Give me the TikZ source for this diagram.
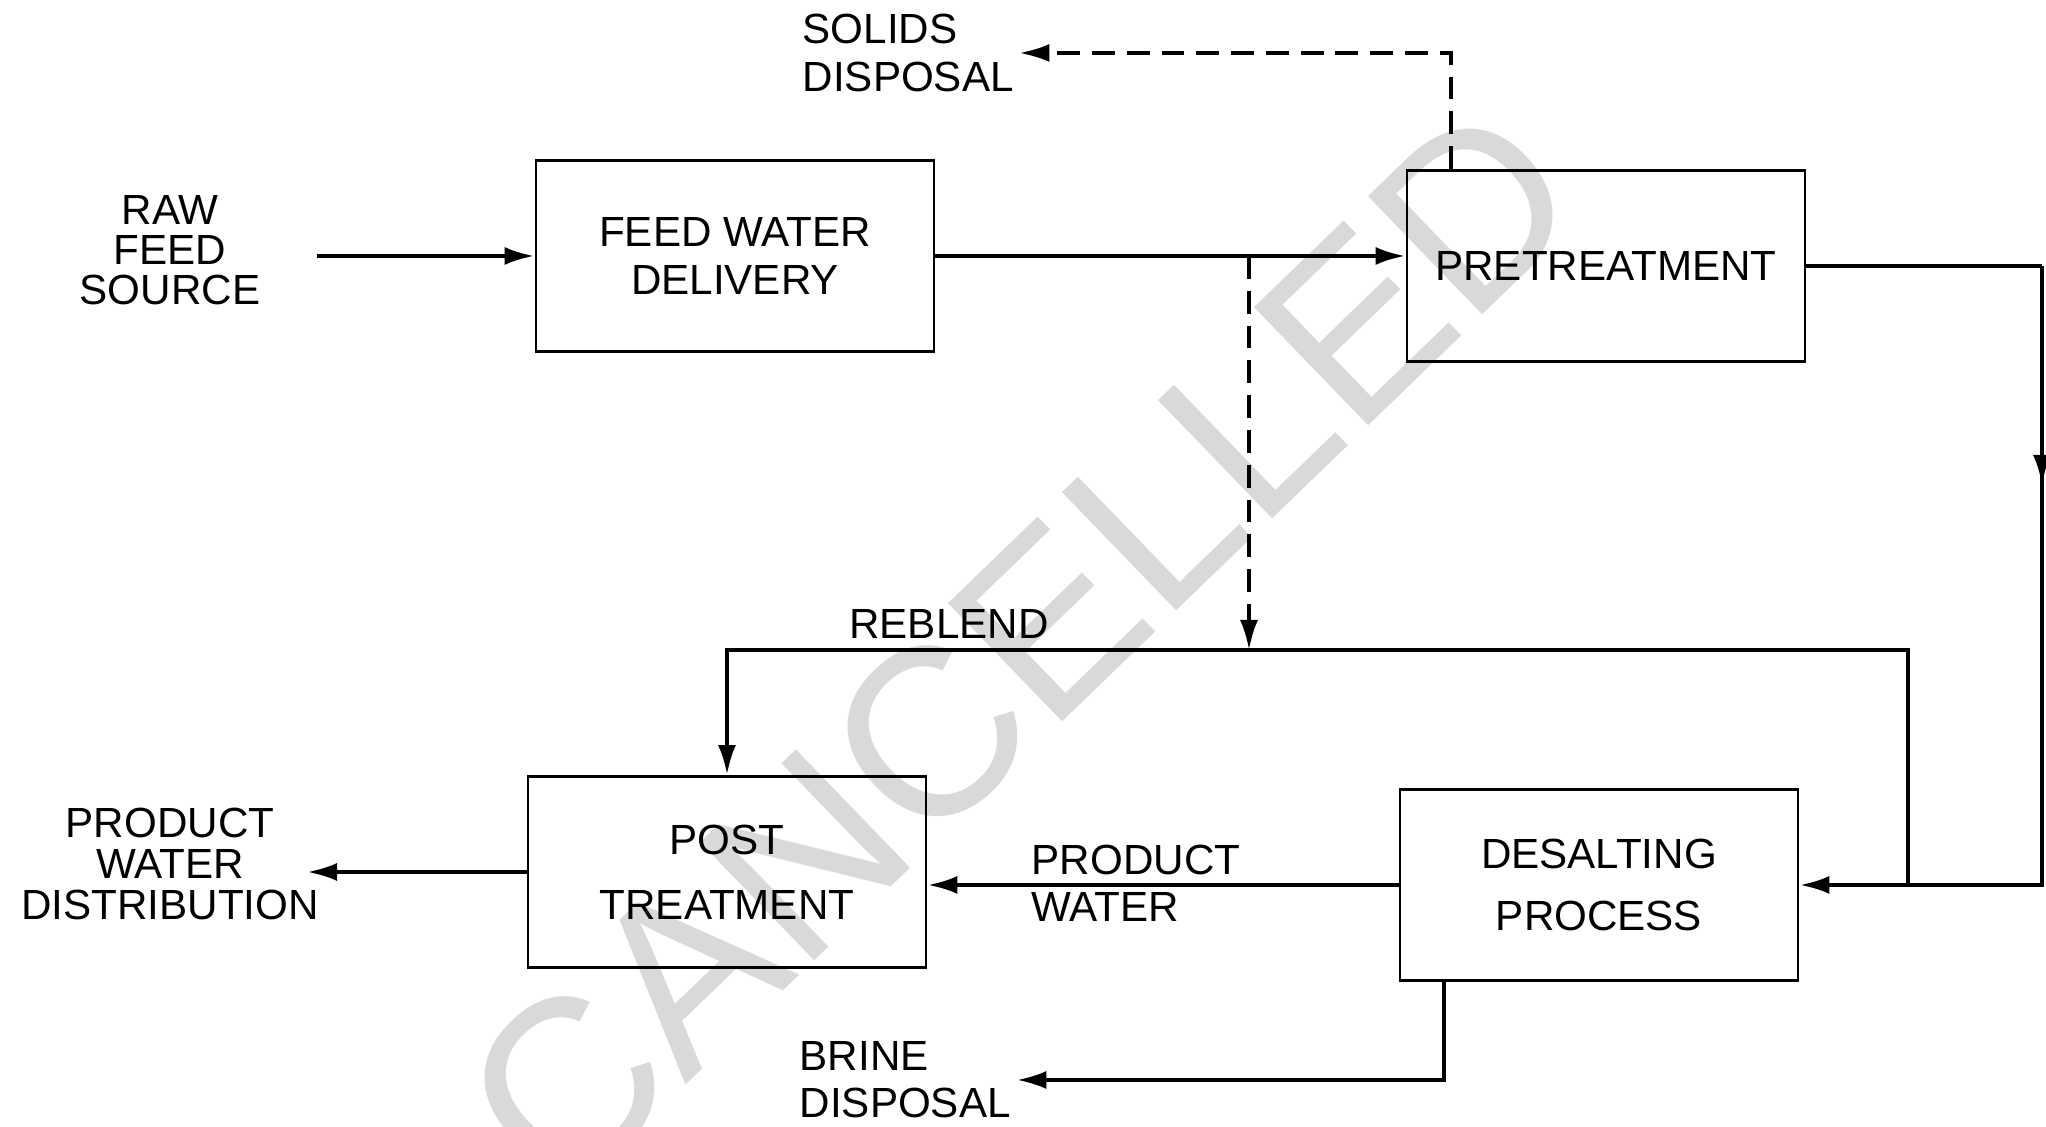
\documentclass[tikz,border=0pt]{standalone}
\usepackage{fontspec}
\setmainfont{Liberation Sans}
\usepackage{tikz}
\usetikzlibrary{arrows.meta}

\begin{document}
\begin{tikzpicture}
                \useasboundingbox (0,0) rectangle (20.46,11.27);
                \node[text=black!15, rotate=44, font=\fontsize{68}{68}\selectfont] (CAN) at (10.20, 4.79) {CANCELLED};

                \begin{scope}[every node/.style = {rectangle, draw, line width=0.8pt, minimum width=3.98cm, minimum height=1.91cm, align=center, font=\fontsize{12}{13.4}\selectfont}]
                    \node (FWD)  at (7.35, 8.71)  {FEED WATER\\DELIVERY};
                    \node (PRE)  at (16.06, 8.61) {PRETREATMENT};
                    \node[font=\fontsize{12}{18.5}\selectfont] (POST) at (7.27, 2.55)  {POST\\TREATMENT};
                    \node[font=\fontsize{12}{17.6}\selectfont] (DES)  at (15.99, 2.42) {DESALTING\\PROCESS};
                \end{scope}

                \begin{scope}[every node/.style = {align=center, inner sep=0pt, font=\fontsize{12}{13.4}\selectfont}]
                    \node[font=\fontsize{12}{11.4}\selectfont] (RAW) at (1.70, 8.77) {RAW\\FEED\\SOURCE};
                    \node[font=\fontsize{12}{11.7}\selectfont] (PWD) at (1.70, 2.63) {PRODUCT\\WATER\\DISTRIBUTION};
                    \node[anchor=west, align=left] (SOL)   at (8.02, 10.74) {SOLIDS\\DISPOSAL};
                    \node[anchor=west, align=left] (BRINE) at (7.99, 0.47)  {BRINE\\DISPOSAL};
                    \node[anchor=west, align=left] (PW)    at (10.31, 2.44) {PRODUCT\\WATER};
                    \node (RBL) at (9.49, 5.03) {REBLEND};
                \end{scope}

                \coordinate (RAWout) at (3.17, 8.71);
                \coordinate (PWDin)  at (3.07, 2.55);
                \coordinate (RTOP)   at (20.42, 8.61);
                \coordinate (RJ)     at (19.08, 4.77);
                \coordinate (BR)     at (12.49, 4.77);

                \begin{scope}[>={Latex[length=3mm, width=1.8mm]}, line width=1.2pt]
                     \draw [->] (RAWout) -- (FWD.west);
                     \draw [->] (FWD.east) -- (FWD.east -| PRE.west);
                     \draw (PRE.east) -- (RTOP);
                     \draw [->] (RTOP) -- ++(0,-2.19);
                     \draw [->] (RTOP) -- (RTOP |- DES.east) -- (DES.east);
                     \draw [->] (RJ |- DES.east) -- (RJ) -- (RJ -| POST.north) -- (POST.north);
                     \draw [->] (DES.west) -- (DES.west -| POST.east);
                     \draw [->] (POST.west) -- (PWDin);
                     \draw [->] ([xshift=-1.55cm]DES.south) |- ([xshift=0.5mm]BRINE.east);
                \end{scope}

                \begin{scope}[>={Latex[length=3mm, width=1.8mm]}, line width=1pt, dash pattern=on 6.5pt off 3.4pt]
                     \draw [->] (BR |- FWD.east) -- (BR);
                     \draw [->] ([xshift=-1.55cm]PRE.north) |- ([xshift=0.5mm]SOL.east);
                \end{scope}
            \end{tikzpicture}
\end{document}
